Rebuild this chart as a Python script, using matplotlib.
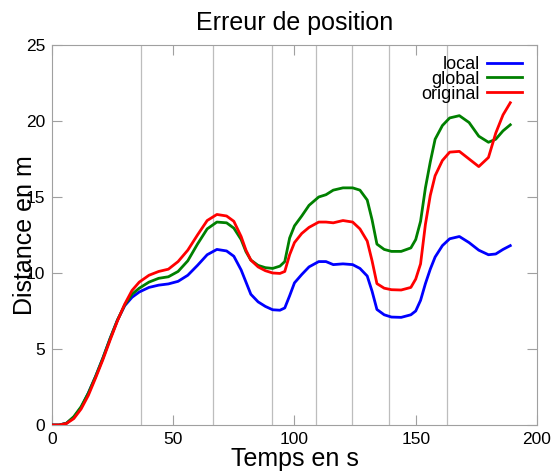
import matplotlib
matplotlib.use('Agg')
import matplotlib.pyplot as plt

plt.rcParams['font.family'] = ['Liberation Sans', 'DejaVu Sans']

# time samples (s)
temps = [0, 3, 6, 9, 12, 15, 18, 21, 24, 27, 30, 33, 36, 40, 44, 48, 52, 56, 60, 64,
         68, 72, 75, 78, 80, 82, 85, 88, 91, 94, 96, 98, 100, 103, 106, 110, 113, 116,
         120, 124, 127, 130, 132, 134, 137, 140, 144, 148, 150, 152, 154, 156, 158,
         161, 164, 168, 172, 176, 180, 183, 186, 189]

local = [0, 0.0, 0.12, 0.5, 1.15, 2.1, 3.2, 4.4, 5.7, 6.9, 7.85, 8.4, 8.75, 9.05, 9.2,
         9.28, 9.45, 9.85, 10.5, 11.2, 11.55, 11.45, 11.1, 10.2, 9.4, 8.6, 8.1, 7.8,
         7.58, 7.55, 7.7, 8.5, 9.35, 9.9, 10.4, 10.75, 10.75, 10.55, 10.6, 10.55, 10.3,
         9.8, 8.8, 7.6, 7.25, 7.1, 7.08, 7.25, 7.5, 8.2, 9.3, 10.25, 11.05, 11.8, 12.25,
         12.4, 12.0, 11.5, 11.2, 11.25, 11.55, 11.8]

glob = [0, 0.0, 0.12, 0.55, 1.2, 2.1, 3.2, 4.4, 5.7, 6.9, 7.9, 8.6, 9.0, 9.4, 9.65,
        9.75, 10.1, 10.8, 11.9, 12.9, 13.35, 13.3, 12.95, 12.2, 11.4, 10.85, 10.5,
        10.35, 10.3, 10.45, 10.75, 12.3, 13.1, 13.75, 14.45, 15.0, 15.15, 15.45, 15.6,
        15.6, 15.45, 14.8, 13.5, 11.9, 11.55, 11.42, 11.42, 11.65, 12.2, 13.4, 15.6,
        17.3, 18.8, 19.7, 20.2, 20.35, 19.9, 19.0, 18.6, 18.8, 19.35, 19.75]

original = [0, 0.0, 0.1, 0.42, 1.05, 1.95, 3.1, 4.3, 5.6, 6.85, 7.95, 8.85, 9.4, 9.85,
            10.1, 10.25, 10.75, 11.5, 12.5, 13.45, 13.85, 13.75, 13.4, 12.4, 11.5, 10.85,
            10.4, 10.15, 10.0, 9.97, 10.1, 11.2, 12.0, 12.6, 13.0, 13.35, 13.35, 13.3,
            13.45, 13.35, 12.9, 12.1, 10.8, 9.3, 9.0, 8.9, 8.88, 9.05, 9.6, 10.6, 13.2,
            15.1, 16.4, 17.4, 17.95, 18.0, 17.5, 17.0, 17.6, 19.2, 20.4, 21.2]

# vertical event markers (s)
evenements = [36.7, 66.6, 90.7, 109.0, 123.9, 139.1, 163.0]

fig = plt.figure(figsize=(5.53, 4.71), dpi=100)
ax = fig.add_axes([0.094, 0.0977, 0.877, 0.8068])

for t in evenements:
    ax.axvline(t, color='#bdbdbd', lw=0.9, zorder=1)

ax.plot(temps, local, color='#0000ff', lw=2, label='local', zorder=3)
ax.plot(temps, glob, color='#008000', lw=2, label='global', zorder=3)
ax.plot(temps, original, color='#ff0000', lw=2, label='original', zorder=3)

ax.set_xlim(0, 200)
ax.set_ylim(0, 25)
ax.set_xticks([0, 50, 100, 150, 200])
ax.set_yticks([0, 5, 10, 15, 20, 25])
ax.tick_params(direction='in', length=7, width=0.8, color='#a0a0a0',
               labelsize=12.5, top=True, right=True, pad=5)
for s in ax.spines.values():
    s.set_color('#a0a0a0')
    s.set_linewidth(0.8)

ax.set_title('Erreur de position', fontsize=18, pad=11)
ax.set_xlabel('Temps en s', fontsize=18, labelpad=0)
ax.set_ylabel('Distance en m', fontsize=18)
ax.yaxis.set_label_coords(-0.031, 0.5)

leg = ax.legend(loc='upper right', frameon=False, markerfirst=False, fontsize=13,
                labelspacing=-0.12, handlelength=1.95, handletextpad=0.4,
                borderpad=0, bbox_to_anchor=(0.988, 0.995))
for txt in leg.get_texts():
    txt.set_ha('right')

fig.savefig('out.png', dpi=100)
